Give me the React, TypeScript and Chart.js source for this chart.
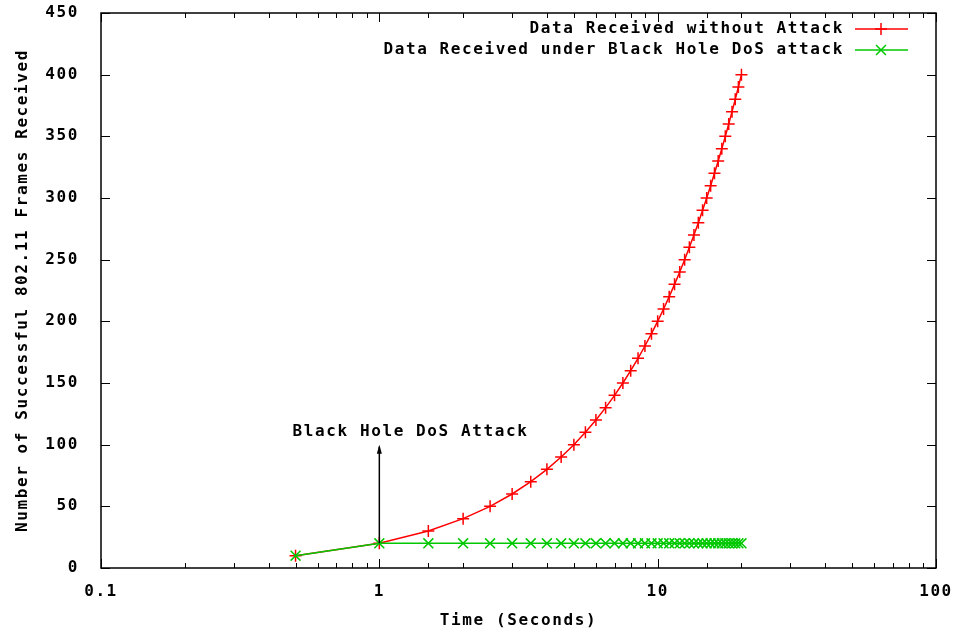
import React, { useEffect, useRef } from 'react';
import { Chart, registerables } from 'chart.js';

Chart.register(...registerables);

// ---- data ----
const times = [0.5, 1, 1.5, 2, 2.5, 3, 3.5, 4, 4.5, 5, 5.5, 6, 6.5, 7, 7.5, 8, 8.5, 9, 9.5, 10,
  10.5, 11, 11.5, 12, 12.5, 13, 13.5, 14, 14.5, 15, 15.5, 16, 16.5, 17, 17.5, 18, 18.5, 19, 19.5, 20];
const framesWithoutAttack = [10, 20, 30, 40, 50, 60, 70, 80, 90, 100, 110, 120, 130, 140, 150, 160, 170, 180, 190, 200,
  210, 220, 230, 240, 250, 260, 270, 280, 290, 300, 310, 320, 330, 340, 350, 360, 370, 380, 390, 400];
const framesUnderAttack = [10, 20, 20, 20, 20, 20, 20, 20, 20, 20, 20, 20, 20, 20, 20, 20, 20, 20, 20, 20,
  20, 20, 20, 20, 20, 20, 20, 20, 20, 20, 20, 20, 20, 20, 20, 20, 20, 20, 20, 20];
const seriesNames = ['Data Received without Attack', 'Data Received under Black Hole DoS attack'];
const xTickLabels: Record<string, string> = { '-1': '0.1', '0': '1', '1': '10', '2': '100' };
const yTickValues = [0, 50, 100, 150, 200, 250, 300, 350, 400, 450];
const annotationText = 'Black Hole DoS Attack';
const annotationLabelAt = { x: 0.5, y: 110 };
const arrowFrom = { x: 1, y: 20 };
const arrowTo = { x: 1, y: 100 };

const RED = '#ff0000';
const GREEN = '#00c800';
const FONT_FAMILY = "'DejaVu Sans Mono', 'Liberation Mono', monospace";
const LS = '1.6px';
const FONT = `bold 16px ${FONT_FAMILY}`;

function isDecade(v: number) {
  const l = Math.log10(v);
  return Math.abs(l - Math.round(l)) < 1e-6;
}

function drawPlus(ctx: CanvasRenderingContext2D, x: number, y: number, r: number) {
  ctx.beginPath();
  ctx.moveTo(x - r, y); ctx.lineTo(x + r, y);
  ctx.moveTo(x, y - r); ctx.lineTo(x, y + r);
  ctx.stroke();
}
function drawX(ctx: CanvasRenderingContext2D, x: number, y: number, r: number) {
  const d = r * Math.SQRT1_2;
  ctx.beginPath();
  ctx.moveTo(x - d, y - d); ctx.lineTo(x + d, y + d);
  ctx.moveTo(x - d, y + d); ctx.lineTo(x + d, y - d);
  ctx.stroke();
}

const gnuplotPlugin = {
  id: 'gnuplotDecor',
  beforeUpdate(chart: any) { (chart.ctx as any).letterSpacing = LS; },
  beforeLayout(chart: any) { (chart.ctx as any).letterSpacing = LS; },
  beforeDraw(chart: any) { (chart.ctx as any).letterSpacing = LS; },
  beforeDatasetsDraw(chart: any) {
    const { ctx, chartArea: a, scales } = chart;
    ctx.save();
    ctx.strokeStyle = '#000';
    ctx.lineWidth = 1;
    const xs = scales.x;
    xs.ticks.forEach((t: any) => {
      const px = Math.round(xs.getPixelForValue(t.value)) + 0.5;
      const len = isDecade(t.value) ? 9 : 5;
      ctx.beginPath();
      ctx.moveTo(px, a.bottom); ctx.lineTo(px, a.bottom - len);
      ctx.moveTo(px, a.top); ctx.lineTo(px, a.top + len);
      ctx.stroke();
    });
    const ys = scales.y;
    ys.ticks.forEach((t: any) => {
      const py = Math.round(ys.getPixelForValue(t.value)) + 0.5;
      ctx.beginPath();
      ctx.moveTo(a.left, py); ctx.lineTo(a.left + 9, py);
      ctx.moveTo(a.right, py); ctx.lineTo(a.right - 9, py);
      ctx.stroke();
    });
    ctx.lineWidth = 1.5;
    ctx.strokeRect(a.left, a.top, a.right - a.left, a.bottom - a.top);
    ctx.restore();
  },
  afterDatasetsDraw(chart: any) {
    const { ctx, chartArea: a, scales } = chart;
    const xs = scales.x, ys = scales.y;
    ctx.save();
    (ctx as any).letterSpacing = LS;
    // arrow
    const ax = xs.getPixelForValue(arrowFrom.x);
    const ay0 = ys.getPixelForValue(arrowFrom.y);
    const ay1 = ys.getPixelForValue(arrowTo.y);
    ctx.strokeStyle = '#000';
    ctx.fillStyle = '#000';
    ctx.lineWidth = 1.5;
    ctx.beginPath();
    ctx.moveTo(ax, ay0); ctx.lineTo(ax, ay1 + 2);
    ctx.stroke();
    ctx.beginPath();
    ctx.moveTo(ax, ay1);
    ctx.lineTo(ax - 2.5, ay1 + 9);
    ctx.lineTo(ax + 2.5, ay1 + 9);
    ctx.closePath();
    ctx.fill();
    // label
    ctx.font = FONT;
    ctx.textAlign = 'left';
    ctx.textBaseline = 'middle';
    ctx.fillText(annotationText, xs.getPixelForValue(annotationLabelAt.x) - 3, ys.getPixelForValue(annotationLabelAt.y));
    // legend
    const colors = [RED, GREEN];
    const rows = [a.top + 16, a.top + 37];
    rows.forEach((ry, i) => {
      ctx.fillStyle = '#000';
      ctx.textAlign = 'right';
      ctx.fillText(seriesNames[i], a.right - 92, ry);
      ctx.strokeStyle = colors[i];
      ctx.lineWidth = 1.5;
      ctx.beginPath();
      ctx.moveTo(a.right - 81, ry); ctx.lineTo(a.right - 28, ry);
      ctx.stroke();
      if (i === 0) drawPlus(ctx, a.right - 55, ry, 6);
      else drawX(ctx, a.right - 55, ry, 7);
    });
    ctx.restore();
  },
};

export default function App() {
  const ref = useRef<HTMLCanvasElement | null>(null);
  useEffect(() => {
    if (!ref.current) return;
    Chart.defaults.font.family = FONT_FAMILY;
    Chart.defaults.color = '#000';
    const chart = new Chart(ref.current, {
      type: 'scatter',
      data: {
        datasets: [
          {
            label: seriesNames[0],
            data: times.map((t, i) => ({ x: t, y: framesWithoutAttack[i] })),
            showLine: true,
            borderColor: RED,
            backgroundColor: RED,
            borderWidth: 1.5,
            pointStyle: 'cross',
            pointRadius: 6,
            pointBorderWidth: 1.5,
            pointBorderColor: RED,
            order: 1,
          },
          {
            label: seriesNames[1],
            data: times.map((t, i) => ({ x: t, y: framesUnderAttack[i] })),
            showLine: true,
            borderColor: GREEN,
            backgroundColor: GREEN,
            borderWidth: 1.5,
            pointStyle: 'crossRot',
            pointRadius: 7,
            pointBorderWidth: 1.5,
            pointBorderColor: GREEN,
            order: 0,
          },
        ],
      },
      options: {
        animation: false,
        responsive: true,
        maintainAspectRatio: false,
        layout: { padding: { top: 13, right: 19, bottom: 0, left: 0 } },
        plugins: {
          legend: { display: false },
          tooltip: { enabled: false },
        },
        scales: {
          x: {
            type: 'logarithmic',
            min: 0.1,
            max: 100,
            grid: { display: false },
            border: { display: false },
            ticks: {
              autoSkip: false,
              maxRotation: 0,
              padding: 6,
              font: { size: 16, weight: 'bold', family: FONT_FAMILY },
              color: '#000',
              callback: (v: any) => {
                const n = Number(v);
                if (!isDecade(n)) return '';
                return xTickLabels[String(Math.round(Math.log10(n)))] ?? '';
              },
            },
            title: {
              display: true,
              text: 'Time (Seconds)',
              font: { size: 16, weight: 'bold', family: FONT_FAMILY },
              color: '#000',
              padding: { top: 0, bottom: 3 },
            },
            afterFit: (s: any) => { s.height = 65; s.paddingLeft = 0; s.paddingRight = 0; },
          },
          y: {
            min: 0,
            max: 450,
            grid: { display: false },
            border: { display: false },
            afterBuildTicks: (s: any) => { s.ticks = yTickValues.map((v) => ({ value: v })); },
            ticks: {
              padding: 14,
              font: { size: 16, weight: 'bold', family: FONT_FAMILY },
              color: '#000',
            },
            title: {
              display: true,
              text: 'Number of Successful 802.11 Frames Received',
              font: { size: 16, weight: 'bold', family: FONT_FAMILY },
              color: '#000',
              padding: { top: 13, bottom: 0 },
            },
            afterFit: (s: any) => { s.width = 101; s.paddingTop = 0; s.paddingBottom = 0; },
          },
        },
      },
      plugins: [gnuplotPlugin],
    } as any);
    return () => chart.destroy();
  }, []);
  return (
    <div style={{ position: 'fixed', left: 0, top: 0, width: 955, height: 633, background: '#fff' }}>
      <canvas ref={ref} />
    </div>
  );
}
